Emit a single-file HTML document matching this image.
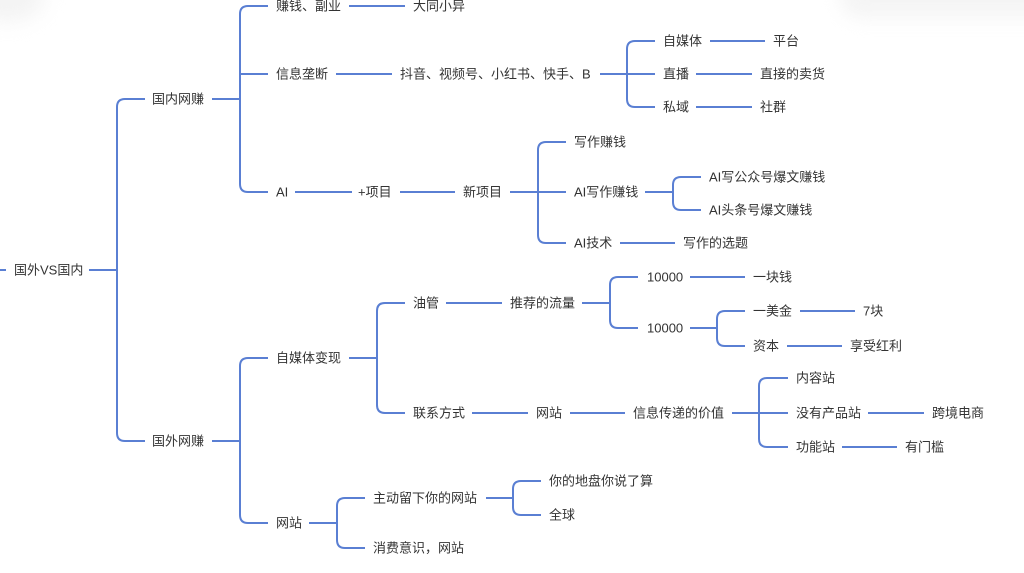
<!DOCTYPE html>
<html><head><meta charset="utf-8">
<style>
html,body{margin:0;padding:0;background:#fff;}
body{width:1024px;height:573px;overflow:hidden;position:relative;}
.sh1{position:absolute;left:-30px;top:-30px;width:75px;height:52px;border-radius:50%;background:#ececec;filter:blur(10px);opacity:.6;}
.sh2{position:absolute;left:840px;top:-28px;width:220px;height:46px;border-radius:20px;background:#ececec;filter:blur(9px);opacity:.55;}
svg{position:absolute;left:0;top:0;}
text{font-family:"Liberation Sans","Noto Sans CJK SC",sans-serif;font-size:13px;fill:#333;dominant-baseline:central;}
path,line{stroke:#5a7fd3;stroke-width:2;fill:none;stroke-linecap:butt;}
</style></head><body>
<div class="sh1"></div><div class="sh2"></div>
<svg width="1024" height="573" viewBox="0 0 1024 573">
<!-- root -->
<line x1="0" y1="270" x2="6" y2="270"/>
<line x1="89" y1="270" x2="117" y2="270"/>
<path d="M145 99 H125 Q117 99 117 107 V433 Q117 441 125 441 H145"/>
<!-- 国内网赚 -->
<line x1="212" y1="99" x2="240" y2="99"/>
<path d="M268 6 H248 Q240 6 240 14 V184 Q240 192 248 192 H268"/>
<line x1="240" y1="74" x2="268" y2="74"/>
<line x1="349" y1="6" x2="405" y2="6"/>
<line x1="336" y1="74" x2="392" y2="74"/>
<!-- 抖音 group -->
<line x1="600" y1="74" x2="627" y2="74"/>
<path d="M655 41 H635 Q627 41 627 49 V99 Q627 107 635 107 H655"/>
<line x1="627" y1="74" x2="655" y2="74"/>
<line x1="710" y1="41" x2="765" y2="41"/>
<line x1="696" y1="74" x2="752" y2="74"/>
<line x1="696" y1="107" x2="752" y2="107"/>
<!-- AI -->
<line x1="295" y1="192" x2="352" y2="192"/>
<line x1="400" y1="192" x2="455" y2="192"/>
<line x1="510" y1="192" x2="538" y2="192"/>
<path d="M566 142 H546 Q538 142 538 150 V235 Q538 243 546 243 H566"/>
<line x1="538" y1="192" x2="566" y2="192"/>
<line x1="645" y1="192" x2="673" y2="192"/>
<path d="M701 177 H681 Q673 177 673 185 V202 Q673 210 681 210 H701"/>
<line x1="620" y1="243" x2="675" y2="243"/>
<!-- 国外网赚 -->
<line x1="212" y1="441" x2="240" y2="441"/>
<path d="M268 358 H248 Q240 358 240 366 V515 Q240 523 248 523 H268"/>
<line x1="349" y1="358" x2="377" y2="358"/>
<path d="M405 303 H385 Q377 303 377 311 V405 Q377 413 385 413 H405"/>
<line x1="446" y1="303" x2="502" y2="303"/>
<line x1="582" y1="303" x2="610" y2="303"/>
<path d="M638 277 H618 Q610 277 610 285 V320 Q610 328 618 328 H638"/>
<line x1="690" y1="277" x2="745" y2="277"/>
<line x1="690" y1="328" x2="717" y2="328"/>
<path d="M745 311 H725 Q717 311 717 319 V338 Q717 346 725 346 H745"/>
<line x1="800" y1="311" x2="855" y2="311"/>
<line x1="787" y1="346" x2="842" y2="346"/>
<line x1="472" y1="413" x2="528" y2="413"/>
<line x1="570" y1="413" x2="625" y2="413"/>
<line x1="732" y1="413" x2="759" y2="413"/>
<path d="M788 378 H767 Q759 378 759 386 V439 Q759 447 767 447 H788"/>
<line x1="759" y1="413" x2="788" y2="413"/>
<line x1="868" y1="413" x2="924" y2="413"/>
<line x1="842" y1="447" x2="897" y2="447"/>
<!-- 网站 -->
<line x1="309" y1="523" x2="337" y2="523"/>
<path d="M365 498 H345 Q337 498 337 506 V540 Q337 548 345 548 H365"/>
<line x1="486" y1="498" x2="513" y2="498"/>
<path d="M541 481 H521 Q513 481 513 489 V507 Q513 515 521 515 H541"/>

<!-- texts -->
<text x="14" y="270">国外VS国内</text>
<text x="152" y="99">国内网赚</text>
<text x="276" y="6">赚钱、副业</text>
<text x="413" y="6">大同小异</text>
<text x="276" y="74">信息垄断</text>
<text x="400" y="74">抖音、视频号、小红书、快手、B</text>
<text x="663" y="41">自媒体</text>
<text x="773" y="41">平台</text>
<text x="663" y="74">直播</text>
<text x="760" y="74">直接的卖货</text>
<text x="663" y="107">私域</text>
<text x="760" y="107">社群</text>
<text x="276" y="192">AI</text>
<text x="358" y="192">+项目</text>
<text x="463" y="192">新项目</text>
<text x="574" y="142">写作赚钱</text>
<text x="574" y="192">AI写作赚钱</text>
<text x="709" y="177">AI写公众号爆文赚钱</text>
<text x="709" y="210">AI头条号爆文赚钱</text>
<text x="574" y="243">AI技术</text>
<text x="683" y="243">写作的选题</text>
<text x="152" y="441">国外网赚</text>
<text x="276" y="358">自媒体变现</text>
<text x="413" y="303">油管</text>
<text x="510" y="303">推荐的流量</text>
<text x="647" y="277">10000</text>
<text x="753" y="277">一块钱</text>
<text x="647" y="328">10000</text>
<text x="753" y="311">一美金</text>
<text x="863" y="311">7块</text>
<text x="753" y="346">资本</text>
<text x="850" y="346">享受红利</text>
<text x="413" y="413">联系方式</text>
<text x="536" y="413">网站</text>
<text x="633" y="413">信息传递的价值</text>
<text x="796" y="378">内容站</text>
<text x="796" y="413">没有产品站</text>
<text x="932" y="413">跨境电商</text>
<text x="796" y="447">功能站</text>
<text x="905" y="447">有门槛</text>
<text x="276" y="523">网站</text>
<text x="373" y="498">主动留下你的网站</text>
<text x="549" y="481">你的地盘你说了算</text>
<text x="549" y="515">全球</text>
<text x="373" y="548">消费意识，网站</text>
</svg>
</body></html>
